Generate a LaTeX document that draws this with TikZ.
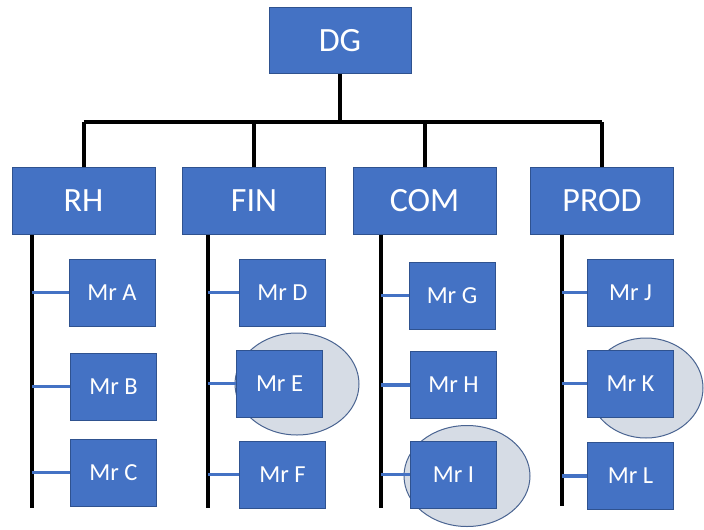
\documentclass[tikz,border=0pt]{standalone}
\usepackage{fontspec}
\setmainfont{Carlito}
\usepackage{tikz}
\usetikzlibrary{shapes.geometric}

\definecolor{boxblue}{HTML}{4472C4}
\definecolor{boxedge}{HTML}{2F528F}
\definecolor{halofill}{HTML}{D6DCE5}
\definecolor{haloedge}{HTML}{4A6491}

\tikzset{
  box/.style={fill=boxblue, draw=boxedge, line width=0.8pt, text=white, inner sep=0pt},
  dept/.style={box, minimum width=143pt, minimum height=67pt, font=\fontsize{34}{40}\selectfont},
  staff/.style={box, minimum width=86pt, minimum height=67pt, font=\fontsize{24.5}{28}\selectfont},
  halo/.style={ellipse, fill=halofill, draw=haloedge, line width=1pt, inner sep=0pt},
  trunk/.style={line width=4pt, black},
  branch/.style={line width=3.5pt, boxblue}
}

\begin{document}
\begin{tikzpicture}[x=1pt,y=-1pt]
  \useasboundingbox (0,0) rectangle (704,530);

  % highlighted people
  \node[halo, minimum width=124pt, minimum height=102pt] (ove) at (297,384) {};
  \node[halo, minimum width=126pt, minimum height=101pt] (ovi) at (467,476) {};
  \node[halo, minimum width=114pt, minimum height=100pt] (ovk) at (646,388) {};

  \node[box, minimum width=142pt, minimum height=66pt, font=\fontsize{34}{40}\selectfont] (dg) at (340,40.5) {DG};

  \node[dept] (rh) at (83.5,201) {RH};
  \node[dept] (fin) at (254,201) {FIN};
  \node[dept] (com) at (424.5,201) {COM};
  \node[dept] (prod) at (602,201) {PROD};

  \coordinate (bar) at (340,122);
  \draw[trunk] (dg.south) -- (bar);
  \draw[trunk] (rh.north |- bar) -- (prod.north |- bar);
  \draw[trunk] (rh.north |- bar) -- (rh.north);
  \draw[trunk] (fin.north |- bar) -- (fin.north);
  \draw[trunk] (com.north |- bar) -- (com.north);
  \draw[trunk] (prod.north |- bar) -- (prod.north);

  \node[staff] (mra) at (112,292.5) {Mr A};
  \node[staff] (mrb) at (113.5,386.5) {Mr B};
  \node[staff] (mrc) at (113.5,472.5) {Mr C};

  \node[staff] (mrd) at (282.5,292.5) {Mr D};
  \node[staff] (mre) at (279.5,383.5) {Mr E};
  \node[staff] (mrf) at (282.5,474.5) {Mr F};

  \node[staff] (mrg) at (452,295.5) {Mr G};
  \node[staff] (mrh) at (453.5,385) {Mr H};
  \node[staff] (mri) at (453.5,474.5) {Mr I};

  \node[staff] (mrj) at (630.5,292.5) {Mr J};
  \node[staff] (mrk) at (630.5,383.5) {Mr K};
  \node[staff] (mrl) at (630.5,476) {Mr L};

  \coordinate (rhbot) at (32,508);
  \coordinate (finbot) at (208,508);
  \coordinate (combot) at (381,508);
  \coordinate (prodbot) at (562,506);

  \draw[trunk] (rhbot |- rh.south) -- (rhbot);
  \draw[trunk] (finbot |- fin.south) -- (finbot);
  \draw[trunk] (combot |- com.south) -- (combot);
  \draw[trunk] (prodbot |- prod.south) -- (prodbot);

  \draw[branch] (rhbot |- mra.west) -- (mra.west);
  \draw[branch] (rhbot |- mrb.west) -- (mrb.west);
  \draw[branch] (rhbot |- mrc.west) -- (mrc.west);
  \draw[branch] (finbot |- mrd.west) -- (mrd.west);
  \draw[branch] (finbot |- mre.west) -- (mre.west);
  \draw[branch] (finbot |- mrf.west) -- (mrf.west);
  \draw[branch] (combot |- mrg.west) -- (mrg.west);
  \draw[branch] (combot |- mrh.west) -- (mrh.west);
  \draw[branch] (combot |- mri.west) -- (mri.west);
  \draw[branch] (prodbot |- mrj.west) -- (mrj.west);
  \draw[branch] (prodbot |- mrk.west) -- (mrk.west);
  \draw[branch] (prodbot |- mrl.west) -- (mrl.west);
\end{tikzpicture}
\end{document}
